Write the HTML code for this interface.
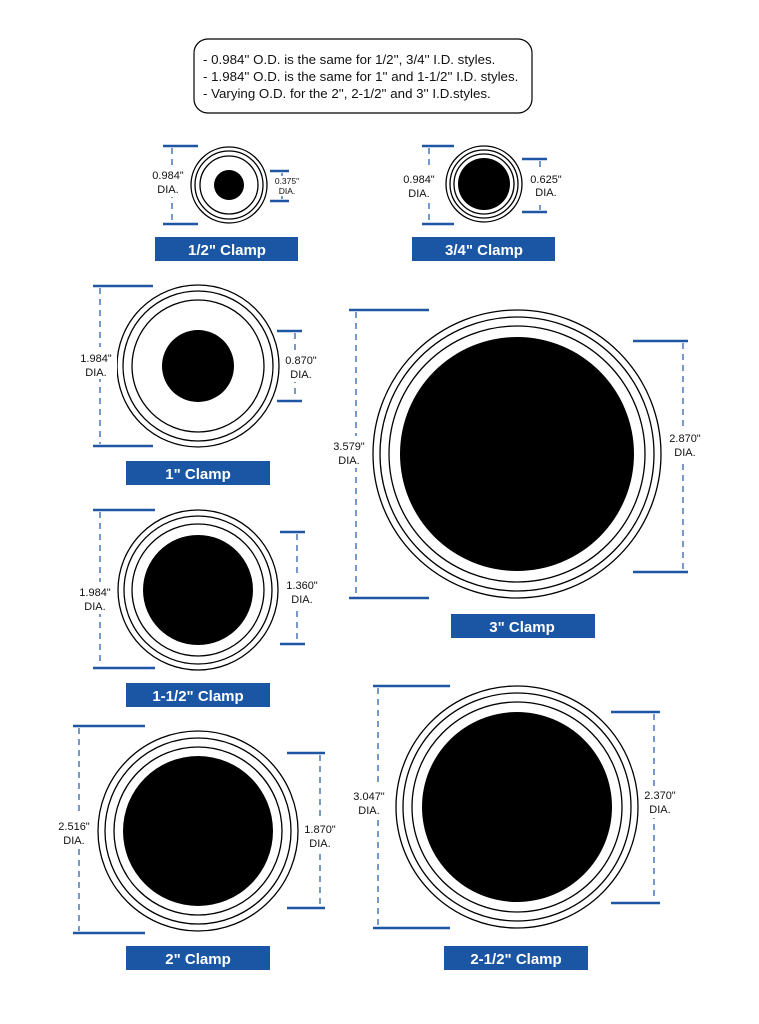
<!DOCTYPE html>
<html><head><meta charset="utf-8"><style>
html,body{margin:0;padding:0;background:#fff}
svg{display:block}
text{font-family:"Liberation Sans",Arial,sans-serif}
.d{font-size:11px;fill:#111;text-anchor:middle}
.l{font-size:15px;font-weight:bold;fill:#fff;text-anchor:middle}
.n{font-size:13.3px;fill:#111}
.r{fill:none;stroke:#000;stroke-width:1.3}
.b{stroke:#1f56a3;stroke-width:2.5}
.ds{stroke:#1f56a3;stroke-width:1.2;stroke-dasharray:6,5}
.bx{fill:#1a56a4}
</style></head><body>
<svg width="759" height="1024" viewBox="0 0 759 1024">
<rect x="194" y="39" width="338" height="74" rx="14" fill="#fff" stroke="#000" stroke-width="1.2"/>
<text class="n" x="203" y="64">- 0.984'' O.D. is the same for 1/2'', 3/4'' I.D. styles.</text>
<text class="n" x="203" y="81">- 1.984'' O.D. is the same for 1'' and 1-1/2'' I.D. styles.</text>
<text class="n" x="203" y="98">- Varying O.D. for the 2'', 2-1/2'' and 3'' I.D.styles.</text>

<g>
<circle class="r" cx="229" cy="185" r="38"/><circle class="r" cx="229" cy="185" r="34"/><circle class="r" cx="229" cy="185" r="29"/>
<circle cx="229" cy="185" r="15"/>
<line class="b" x1="163" y1="146" x2="198" y2="146"/><line class="b" x1="163" y1="224" x2="198" y2="224"/>
<line class="ds" x1="172" y1="148" x2="172" y2="222"/>
<rect x="152" y="167" width="34" height="30" fill="#fff"/>
<text class="d" x="168" y="179">0.984"</text><text class="d" x="168" y="193">DIA.</text>
<line class="b" x1="270" y1="171" x2="289" y2="171"/><line class="b" x1="270" y1="201" x2="289" y2="201"/>
<line class="ds" x1="282" y1="173" x2="282" y2="199"/>
<rect x="272" y="176" width="30" height="20" fill="#fff"/>
<text class="d" x="287" y="184" style="font-size:8.5px">0.375"</text><text class="d" x="287" y="194" style="font-size:8.5px">DIA.</text>
<rect class="bx" x="155" y="237" width="143" height="24"/><text class="l" x="227" y="255">1/2" Clamp</text>
</g>
<g>
<circle class="r" cx="484" cy="184" r="38"/><circle class="r" cx="484" cy="184" r="34"/><circle class="r" cx="484" cy="184" r="30"/>
<circle cx="484" cy="184" r="26"/>
<line class="b" x1="422" y1="146" x2="454" y2="146"/><line class="b" x1="422" y1="224" x2="454" y2="224"/>
<line class="ds" x1="429" y1="148" x2="429" y2="222"/>
<rect x="402" y="168" width="34" height="32" fill="#fff"/>
<text class="d" x="419" y="183">0.984"</text><text class="d" x="419" y="197">DIA.</text>
<line class="b" x1="522" y1="159" x2="547" y2="159"/><line class="b" x1="522" y1="212" x2="547" y2="212"/>
<line class="ds" x1="540" y1="161" x2="540" y2="210"/>
<rect x="529" y="170" width="34" height="30" fill="#fff"/>
<text class="d" x="546" y="183">0.625"</text><text class="d" x="546" y="196">DIA.</text>
<rect class="bx" x="412" y="237" width="143" height="24"/><text class="l" x="484" y="255">3/4" Clamp</text>
</g>
<g>
<circle class="r" cx="198" cy="366" r="81"/><circle class="r" cx="198" cy="366" r="75"/><circle class="r" cx="198" cy="366" r="66"/>
<circle cx="198" cy="366" r="36"/>
<line class="b" x1="93" y1="286" x2="153" y2="286"/><line class="b" x1="93" y1="446" x2="153" y2="446"/>
<line class="ds" x1="100" y1="288" x2="100" y2="444"/>
<rect x="77" y="347" width="40" height="32" fill="#fff"/>
<text class="d" x="96" y="362">1.984"</text><text class="d" x="96" y="376">DIA.</text>
<line class="b" x1="277" y1="331" x2="302" y2="331"/><line class="b" x1="277" y1="401" x2="302" y2="401"/>
<line class="ds" x1="295" y1="333" x2="295" y2="399"/>
<rect x="282" y="350" width="38" height="32" fill="#fff"/>
<text class="d" x="301" y="364">0.870"</text><text class="d" x="301" y="378">DIA.</text>
<rect class="bx" x="126" y="461" width="144" height="24"/><text class="l" x="198" y="479">1" Clamp</text>
</g>
<g>
<circle class="r" cx="198" cy="590" r="80"/><circle class="r" cx="198" cy="590" r="74"/><circle class="r" cx="198" cy="590" r="66"/>
<circle cx="198" cy="590" r="55"/>
<line class="b" x1="93" y1="510" x2="155" y2="510"/><line class="b" x1="93" y1="668" x2="155" y2="668"/>
<line class="ds" x1="100" y1="512" x2="100" y2="666"/>
<rect x="77" y="582" width="40" height="32" fill="#fff"/>
<text class="d" x="95" y="596">1.984"</text><text class="d" x="95" y="610">DIA.</text>
<line class="b" x1="280" y1="532" x2="305" y2="532"/><line class="b" x1="280" y1="644" x2="305" y2="644"/>
<line class="ds" x1="297" y1="534" x2="297" y2="642"/>
<rect x="283" y="575" width="40" height="32" fill="#fff"/>
<text class="d" x="302" y="589">1.360"</text><text class="d" x="302" y="603">DIA.</text>
<rect class="bx" x="126" y="683" width="144" height="24"/><text class="l" x="198" y="701">1-1/2" Clamp</text>
</g>
<g>
<circle class="r" cx="517" cy="454" r="144"/><circle class="r" cx="517" cy="454" r="137"/><circle class="r" cx="517" cy="454" r="128"/>
<circle cx="517" cy="454" r="117"/>
<line class="b" x1="349" y1="310" x2="429" y2="310"/><line class="b" x1="349" y1="598" x2="429" y2="598"/>
<line class="ds" x1="356" y1="312" x2="356" y2="596"/>
<rect x="330" y="436" width="40" height="32" fill="#fff"/>
<text class="d" x="349" y="450">3.579"</text><text class="d" x="349" y="464">DIA.</text>
<line class="b" x1="633" y1="341" x2="688" y2="341"/><line class="b" x1="633" y1="572" x2="688" y2="572"/>
<line class="ds" x1="683" y1="343" x2="683" y2="570"/>
<rect x="666" y="429" width="40" height="32" fill="#fff"/>
<text class="d" x="685" y="442">2.870"</text><text class="d" x="685" y="456">DIA.</text>
<rect class="bx" x="451" y="614" width="144" height="24"/><text class="l" x="522" y="632">3" Clamp</text>
</g>
<g>
<circle class="r" cx="198" cy="831" r="100"/><circle class="r" cx="198" cy="831" r="93"/><circle class="r" cx="198" cy="831" r="84"/>
<circle cx="198" cy="831" r="75"/>
<line class="b" x1="73" y1="726" x2="145" y2="726"/><line class="b" x1="73" y1="933" x2="145" y2="933"/>
<line class="ds" x1="79" y1="728" x2="79" y2="931"/>
<rect x="55" y="816" width="40" height="32" fill="#fff"/>
<text class="d" x="74" y="830">2.516"</text><text class="d" x="74" y="844">DIA.</text>
<line class="b" x1="287" y1="753" x2="325" y2="753"/><line class="b" x1="287" y1="908" x2="325" y2="908"/>
<line class="ds" x1="320" y1="755" x2="320" y2="906"/>
<rect x="302" y="820" width="40" height="32" fill="#fff"/>
<text class="d" x="320" y="833">1.870"</text><text class="d" x="320" y="847">DIA.</text>
<rect class="bx" x="126" y="946" width="144" height="24"/><text class="l" x="198" y="964">2" Clamp</text>
</g>
<g>
<circle class="r" cx="517" cy="807" r="121"/><circle class="r" cx="517" cy="807" r="114"/><circle class="r" cx="517" cy="807" r="105"/>
<circle cx="517" cy="807" r="95"/>
<line class="b" x1="373" y1="686" x2="450" y2="686"/><line class="b" x1="373" y1="928" x2="450" y2="928"/>
<line class="ds" x1="378" y1="688" x2="378" y2="926"/>
<rect x="350" y="786" width="40" height="32" fill="#fff"/>
<text class="d" x="369" y="800">3.047"</text><text class="d" x="369" y="814">DIA.</text>
<line class="b" x1="611" y1="712" x2="660" y2="712"/><line class="b" x1="611" y1="903" x2="660" y2="903"/>
<line class="ds" x1="654" y1="714" x2="654" y2="901"/>
<rect x="640" y="786" width="40" height="32" fill="#fff"/>
<text class="d" x="660" y="799">2.370"</text><text class="d" x="660" y="813">DIA.</text>
<rect class="bx" x="444" y="946" width="144" height="24"/><text class="l" x="516" y="964">2-1/2" Clamp</text>
</g>
</svg>
</body></html>
